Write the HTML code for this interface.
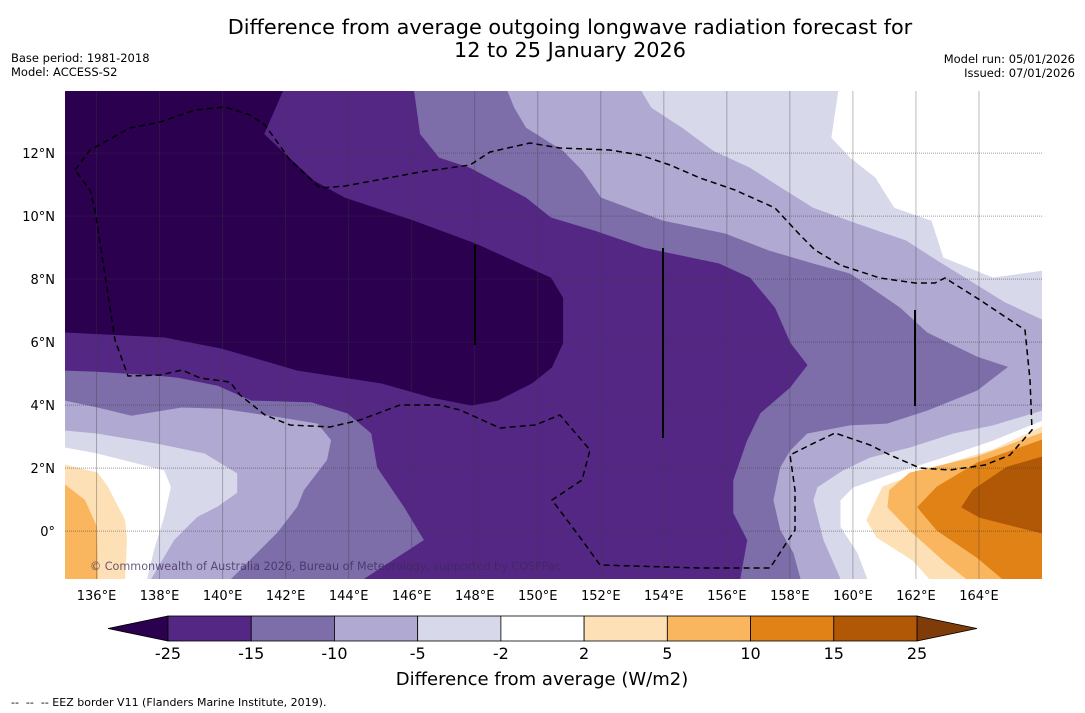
<!DOCTYPE html>
<html><head><meta charset="utf-8"><style>
body{margin:0;background:#fff;width:1085px;height:713px;overflow:hidden;font-family:"DejaVu Sans","Liberation Sans",sans-serif}
svg{display:block}
</style></head><body>
<svg id="chart" width="1085" height="713" xmlns="http://www.w3.org/2000/svg" font-family="DejaVu Sans, Liberation Sans, sans-serif">
<text x="570" y="34" font-size="20.8" text-anchor="middle">Difference from average outgoing longwave radiation forecast for</text>
<text x="570" y="57" font-size="20.8" text-anchor="middle">12 to 25 January 2026</text>
<text x="11" y="62" font-size="11.5">Base period: 1981-2018</text>
<text x="11" y="76" font-size="11.5">Model: ACCESS-S2</text>
<text x="1075" y="63" font-size="11.5" text-anchor="end">Model run: 05/01/2026</text>
<text x="1075" y="77" font-size="11.5" text-anchor="end">Issued: 07/01/2026</text>
<g id="map"></g>
<g id="cbar"></g>
<text x="542" y="685" font-size="18" text-anchor="middle">Difference from average (W/m2)</text>
<text x="11" y="706" font-size="11" style="white-space:pre">--  --  -- EEZ border V11 (Flanders Marine Institute, 2019).</text>
</svg>
<script>
const NS="http://www.w3.org/2000/svg";
// contour levels & colours
const levels=[-25,-15,-10,-5,-2,2,5,10,15,25];
const levelColors=["#2a004f","#552785","#7d6eaa","#b0a9d1","#d8d8eb","#ffffff","#fde0b6","#fab65e","#e08215","#b15806","#7f3b08"];
const lonTicks=[136,138,140,142,144,146,148,150,152,154,156,158,160,162,164];
const latTicks=[0,2,4,6,8,10,12];
// contour regions [lon,lat]
const regionLe2=[[135,13.97],[159.52,13.97],[159.3,12.48],[159.9,11.84],[160.7,11.21],[161.3,10.25],[162.48,9.84],[162.86,8.67],[164.44,8.03],[166,8.25],[166,3.52],[164.44,2.89],[162.86,2.35],[161.27,1.84],[160,1.4],[159.59,0.98],[159.59,0.13],[160.13,-0.7],[160.44,-1.52],[137.62,-1.52],[137.84,-0.6],[138.16,0.44],[138.38,1.4],[138.16,1.94],[136.03,2.48],[135,2.67]];
const regionLe5=[[135,13.97],[153.27,13.97],[153.59,13.43],[154.57,12.79],[155.56,12.06],[156.73,11.52],[157.71,10.89],[158.73,10.25],[160.1,9.75],[161.68,9.21],[162.67,8.57],[163.65,7.97],[164.83,7.24],[166,6.7],[166,3.84],[164.44,3.37],[163.17,3.11],[161.81,2.67],[160.54,2.35],[159.68,1.94],[158.86,1.4],[158.73,0.98],[159.05,-0.29],[159.59,-1.52],[137.75,-1.52],[138.48,-0.29],[139.21,0.44],[139.84,0.76],[140.48,1.21],[140.48,1.84],[139.43,2.48],[137.94,2.79],[136.03,3.11],[135,3.21]];
const regionLe10=[[135,13.97],[149.02,13.97],[149.24,13.43],[149.62,12.79],[150.79,12.06],[151.4,11.43],[152,10.57],[153.97,9.84],[155.94,9.43],[157.33,8.89],[158.73,8.48],[159.9,8.16],[160.7,7.62],[161.49,7.08],[162.35,6.29],[163.94,5.52],[164.89,5.21],[163.94,4.48],[162.35,3.84],[161.08,3.43],[159.9,3.37],[158.54,3.11],[158,2.57],[157.68,2.03],[157.46,0.98],[157.68,0.03],[158.1,-0.7],[158.32,-1.52],[140.29,-1.52],[141.75,-0.06],[142.38,0.76],[142.6,1.3],[143.33,2.25],[143.46,2.89],[143.02,3.43],[141.87,3.62],[139.97,3.9],[138.7,3.94],[137.11,3.68],[136.03,3.94],[135,4.16]];
const regionLe15=[[135,13.97],[146.06,13.97],[146.25,12.6],[146.86,11.84],[147.84,11.52],[149.62,10.57],[150.41,9.94],[151.81,9.52],[153.37,8.98],[155.75,8.48],[156.73,8.03],[157.52,7.08],[158,5.97],[158.54,5.27],[158,4.57],[157.05,3.75],[156.63,2.89],[156.19,1.62],[156.19,0.57],[156.63,-0.29],[156.41,-1.52],[144.51,-1.52],[146.41,-0.29],[145.78,0.76],[144.92,2.03],[144.73,3.11],[143.97,3.75],[142.83,4.1],[140.92,4.16],[139.84,4.63],[138.57,4.89],[137.94,4.95],[135.94,5.08],[135,5.11]];
const regionLe25=[[135,13.97],[141.9,13.97],[141.3,12.6],[142.89,11.11],[143.87,10.57],[146.06,9.84],[148.03,9.11],[150.41,8.03],[150.79,7.4],[150.79,5.97],[150.44,5.21],[149.81,4.7],[148.73,4.16],[147.9,4.0],[146.63,4.25],[145.05,4.7],[142.38,5.11],[139.97,5.81],[138.16,6.16],[135,6.32]];
const regionGe2W=[[135,2.1],[136.03,1.84],[136.35,1.4],[136.89,0.35],[136.95,-0.29],[136.89,-1.52],[135,-1.52]];
const regionGe5W=[[135,1.46],[135.62,0.98],[136,0.13],[136.03,-1.52],[135,-1.52]];
const regionGe2E=[[166,3.3],[164.44,2.57],[162.35,1.94],[160.95,1.4],[160.44,0.35],[160.76,-0.19],[161.9,-0.92],[162.44,-1.52],[166,-1.52]];
const regionGe5E=[[166,3.11],[163.94,2.35],[161.81,1.84],[161.17,1.3],[161.11,0.76],[161.81,0.03],[162.98,-1.02],[163.62,-1.52],[166,-1.52]];
const regionGe10E=[[166,2.89],[163.94,2.16],[162.67,1.4],[162.06,0.76],[162.67,0.03],[163.94,-0.83],[164.76,-1.52],[166,-1.52]];
const regionGe15E=[[166,2.35],[164.89,2.03],[163.81,1.3],[163.46,0.76],[164.03,0.44],[166,-0.06]];

const X0=65,X1=1042,Y0=91,Y1=579;
const lonMin=135,lonMax=166,latMin=-1.52,latMax=13.97;
const xs=lon=>X0+(lon-lonMin)/(lonMax-lonMin)*(X1-X0);
const ys=lat=>Y1-(lat-latMin)/(latMax-latMin)*(Y1-Y0);
const map=document.getElementById('map');
function mk(tag,attrs,parent){const e=document.createElementNS(NS,tag);for(const k in attrs)e.setAttribute(k,attrs[k]);parent.appendChild(e);return e;}
const cp=mk('clipPath',{id:'mclip'},map);mk('rect',{x:X0,y:Y0,width:X1-X0,height:Y1-Y0},cp);
const g=mk('g',{'clip-path':'url(#mclip)'},map);
const bg=mk('rect',{x:X0,y:Y0,width:X1-X0,height:Y1-Y0,fill:'#fff'},g);


const regions=[[regionLe2,4,'region-below-minus2'],[regionLe5,3,'region-below-minus5'],[regionLe10,2,'region-below-minus10'],[regionLe15,1,'region-below-minus15'],[regionLe25,0,'region-below-minus25'],
[regionGe2W,6,'region-above-2-west'],[regionGe5W,7,'region-above-5-west'],[regionGe2E,6,'region-above-2-east'],[regionGe5E,7,'region-above-5-east'],[regionGe10E,8,'region-above-10-east'],[regionGe15E,9,'region-above-15-east']];
regions.forEach(r=>{
  const pts=r[0].map(p=>xs(p[0]).toFixed(1)+','+ys(p[1]).toFixed(1)).join(' ');
  const c=levelColors[r[1]];
  const p=mk('polygon',{points:pts,fill:c,stroke:c,'stroke-width':1},g);
  
  
});
// grid
lonTicks.forEach(l=>{
  const x=xs(l);
  const ln=mk('line',{x1:x,x2:x,y1:Y0,y2:Y1,stroke:'rgba(60,60,60,0.35)','stroke-width':1},g);
  
  
  const t=mk('text',{x:x,y:600,'font-size':13,'text-anchor':'middle'},map);t.textContent=l+'°E';
  
  
});
latTicks.forEach(l=>{
  const y=ys(l);
  const ln=mk('line',{x1:X0,x2:X1,y1:y,y2:y,stroke:'rgba(60,60,60,0.5)','stroke-width':1,'stroke-dasharray':'1,1'},g);
  
  
  const t=mk('text',{x:55,y:y+5,'font-size':13,'text-anchor':'end'},map);t.textContent=l===0?'0°':l+'°N';
  
  
});
// EEZ border (map geography)
const eez=mk('path',{d:'M75,170 L90,150 L130,128 L160,122 L195,110 L225,107 L250,115 L265,125 L290,160 L320,188 L345,186 L420,172 L470,165 L490,152 L530,143 L560,148 L610,150 L640,155 L670,165 L700,178 L735,190 L775,208 L800,235 L815,250 L840,265 L880,278 L915,283 L935,283 L945,278 L980,300 L1025,330 L1030,380 L1032,430 L1010,455 L985,465 L950,470 L920,468 L890,455 L870,445 L835,433 L810,445 L790,455 L795,490 L795,530 L785,545 L770,568 L700,568 L600,565 L582,540 L552,500 L582,480 L590,450 L560,415 L535,425 L500,428 L460,410 L440,405 L400,405 L360,420 L330,427 L290,425 L265,415 L240,395 L230,382 L200,378 L182,370 L160,375 L128,376 L115,340 L95,210 L90,190 Z',fill:'none',stroke:'#000','stroke-width':1.5,'stroke-dasharray':'6,4'},g);


[[475,245,345],[663,248,438],[915,310,406]].forEach(v=>{
  const l=mk('line',{x1:v[0],x2:v[0],y1:v[1],y2:v[2],stroke:'#000','stroke-width':2},g);
  
  
});
const cr=mk('text',{x:90,y:570,'font-size':11.2,fill:'rgba(60,40,90,0.75)'},g);cr.textContent='© Commonwealth of Australia 2026, Bureau of Meteorology, supported by COSPPac';


// colorbar
const cb=document.getElementById('cbar');
const cbX0=168,cbX1=917,cbY=616,cbH=25,seg=(cbX1-cbX0)/(levels.length-1);
const lt=mk('polygon',{points:`108,${cbY+cbH/2} ${cbX0},${cbY} ${cbX0},${cbY+cbH}`,fill:levelColors[0],stroke:'#000','stroke-width':0.8},cb);


const rt=mk('polygon',{points:`977,${cbY+cbH/2} ${cbX1},${cbY} ${cbX1},${cbY+cbH}`,fill:levelColors[10],stroke:'#000','stroke-width':0.8},cb);


for(let i=0;i<levels.length-1;i++){
  const r=mk('rect',{x:cbX0+i*seg,y:cbY,width:seg,height:cbH,fill:levelColors[i+1],stroke:'#000','stroke-width':0.8},cb);
  
  
}
levels.forEach((v,i)=>{
  const t=mk('text',{x:cbX0+i*seg,y:659,'font-size':16,'text-anchor':'middle'},cb);t.textContent=v;
  
  
});
</script>
</body></html>
